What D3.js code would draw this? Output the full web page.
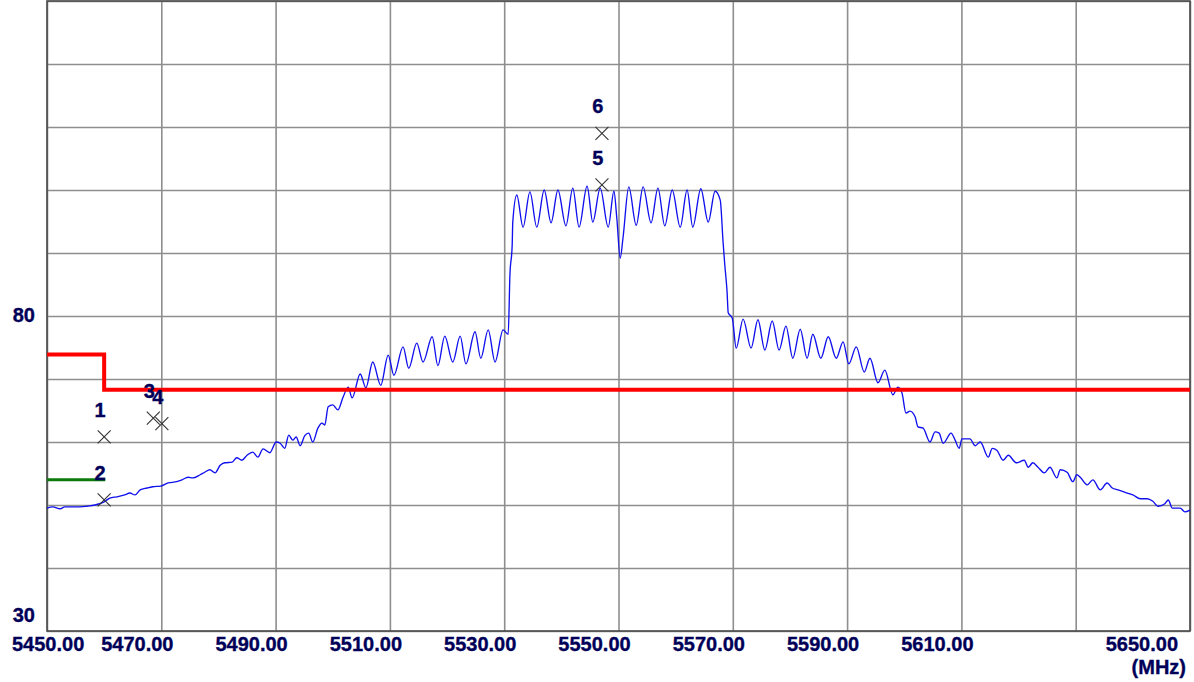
<!DOCTYPE html>
<html>
<head>
<meta charset="utf-8">
<script src="https://cdn.jsdelivr.net/npm/d3@7"></script>
<style>
	body { margin: 0; background: #ffffff; }
	.tick_label { font-family: "Liberation Sans", Arial, sans-serif; font-weight: bold; font-size: 20px; fill: #000058; stroke: #000058; stroke-width: 0.35; }
	.grid line { stroke: #8e8e8e; stroke-width: 1.6; }
	.grid path { display: none; }
</style>
</head>
<body>
<div id="spectrum"></div>
<script>

// trace (MHz, dBuV)
var traceFreq = [5450.0, 5451.0, 5452.3, 5453.1, 5454.4, 5455.8, 5457.0, 5458.4, 5460.0, 5461.0,
	5462.2, 5463.6, 5464.5, 5465.4, 5466.3, 5467.5, 5468.5, 5469.9, 5471.2, 5472.7,
	5473.6, 5474.7, 5475.5, 5476.8, 5477.6, 5478.5, 5479.4, 5480.3, 5481.1, 5482.4,
	5483.2, 5484.1, 5485.0, 5486.0, 5486.9, 5487.8, 5489.0, 5490.1, 5490.8, 5491.6,
	5492.3, 5493.0, 5493.6, 5494.3, 5495.1, 5495.8, 5496.5, 5497.4, 5498.1, 5498.6,
	5499.2, 5500.0, 5500.9, 5501.8, 5502.7, 5503.4, 5504.8, 5505.8, 5507.0, 5508.4,
	5509.7, 5510.7, 5512.3, 5513.3, 5514.7, 5515.8, 5517.4, 5518.4, 5519.6, 5521.0,
	5522.3, 5523.3, 5524.9, 5525.9, 5527.2, 5528.4, 5529.8, 5530.7, 5531.0, 5531.4,
	5531.5, 5532.2, 5533.3, 5534.5, 5535.7, 5537.0, 5538.2, 5539.4, 5540.8, 5542.0,
	5543.1, 5544.5, 5545.5, 5546.8, 5548.2, 5549.2, 5549.7, 5550.3, 5550.8, 5551.8,
	5553.1, 5554.3, 5555.7, 5556.9, 5558.1, 5559.4, 5560.8, 5562.0, 5563.0, 5564.4,
	5565.7, 5566.9, 5567.8, 5568.3, 5568.6, 5569.0, 5569.2, 5569.9, 5570.6, 5571.8,
	5573.2, 5574.4, 5575.6, 5576.9, 5578.1, 5579.3, 5580.5, 5581.8, 5583.0, 5584.0,
	5585.4, 5586.7, 5588.1, 5589.3, 5590.3, 5591.6, 5593.0, 5594.0, 5595.4, 5596.6,
	5598.0, 5598.9, 5599.6, 5600.3, 5601.0, 5601.9, 5602.4, 5603.3, 5604.5, 5605.4,
	5606.1, 5606.8, 5608.2, 5608.9, 5609.6, 5610.1, 5611.5, 5612.4, 5613.3, 5614.7,
	5615.4, 5616.2, 5617.3, 5618.2, 5619.6, 5621.0, 5621.7, 5622.5, 5623.4, 5624.5,
	5625.5, 5626.7, 5627.3, 5628.5, 5629.5, 5630.2, 5630.8, 5632.0, 5633.0, 5634.3,
	5635.5, 5636.4, 5637.4, 5639.0, 5640.0, 5641.3, 5642.5, 5643.5, 5644.4, 5645.6,
	5646.2, 5646.9, 5648.3, 5649.1, 5650.0];

var traceLevel = [49.5, 49.7, 49.4, 49.7, 49.7, 49.7, 49.8, 50.0, 50.5, 51.1,
	51.3, 51.6, 51.9, 51.6, 52.4, 52.7, 52.9, 53.0, 53.5, 53.7,
	54.0, 54.4, 54.3, 54.8, 55.2, 55.6, 55.1, 56.3, 56.7, 56.8,
	57.5, 57.1, 57.9, 58.4, 57.6, 58.9, 58.3, 60.0, 59.8, 59.0,
	61.1, 60.3, 60.8, 59.4, 61.0, 61.4, 60.0, 62.2, 63.0, 62.7,
	65.6, 65.9, 65.1, 67.1, 68.7, 67.0, 70.8, 68.6, 72.7, 69.0,
	73.8, 70.6, 75.1, 71.7, 75.7, 72.7, 76.7, 72.1, 76.8, 72.7,
	76.8, 72.4, 77.5, 73.3, 77.8, 72.7, 77.8, 77.1, 86.5, 91.3,
	94.9, 99.2, 94.1, 99.7, 94.1, 100.0, 94.8, 100.0, 94.3, 100.3,
	94.1, 100.6, 94.9, 100.3, 94.1, 99.8, 95.6, 89.2, 92.5, 100.5,
	94.4, 100.5, 94.8, 100.3, 94.3, 100.0, 94.1, 100.0, 94.1, 100.2,
	94.9, 99.8, 98.4, 91.7, 88.1, 83.8, 80.5, 79.7, 74.9, 79.5,
	74.9, 79.4, 74.6, 79.2, 74.6, 78.4, 73.3, 77.9, 73.3, 77.1,
	73.3, 76.7, 73.3, 75.9, 72.4, 75.1, 71.1, 73.3, 69.4, 71.4,
	67.5, 68.7, 67.8, 64.6, 64.9, 64.0, 62.4, 62.2, 60.0, 61.6,
	61.4, 59.8, 61.4, 60.3, 59.0, 60.5, 60.5, 59.4, 60.0, 57.6,
	59.0, 58.7, 57.1, 57.9, 56.7, 57.1, 56.0, 56.7, 56.0, 55.1,
	56.0, 54.3, 55.6, 55.2, 53.7, 54.8, 54.4, 53.2, 54.0, 52.4,
	53.5, 52.7, 52.4, 51.9, 51.6, 51.0, 51.0, 50.6, 49.8, 50.2,
	50.8, 49.5, 49.5, 48.9, 49.2];

// limit lines
var redFreq = [5450, 5460, 5460, 5650];
var redLevel = [73.9, 73.9, 68.3, 68.3];
var greenFreq = [5450, 5460.2];
var greenLevel = [54.0, 54.0];

// markers
var markerNames = ["1", "2", "3", "4", "5", "6"];
var markerFreq = [5460.0, 5460.0, 5468.6, 5470.1, 5547.1, 5547.1];
var markerLevel = [60.8, 50.8, 63.8, 62.9, 100.8, 109.0];

// axes
var xTicks = [5450, 5470, 5490, 5510, 5530, 5550, 5570, 5590, 5610, 5630, 5650];
var xTickLabels = ["5450.00", "5470.00", "5490.00", "5510.00", "5530.00", "5550.00", "5570.00", "5590.00", "5610.00", "", "5650.00"];
var yTicks = [30, 40, 50, 60, 70, 80, 90, 100, 110, 120, 130];
var yTickLabels = ["30", "", "", "", "", "80", "", "", "", "", ""];
var xUnit = "(MHz)";

var margin = {top: 1, right: 4, bottom: 51, left: 47};
var width = 1194, height = 682;
var sp_width = width - margin.left - margin.right,
	sp_height = height - margin.top - margin.bottom;

var svg = d3.select("#spectrum")
	.append("svg")
	.attr("width", width)
	.attr("height", height);

var chart = svg.append("g")
	.attr("transform", "translate(" + margin.left + "," + margin.top + ")");

var x = d3.scaleLinear().domain([5450, 5650]).range([0, sp_width]);
var y = d3.scaleLinear().domain([30, 130]).range([sp_height, 0]);

// grid
chart.append("g")
	.attr("class", "grid")
	.attr("transform", "translate(0," + sp_height + ")")
	.call(d3.axisBottom(x).tickValues(xTicks).tickSize(-sp_height).tickFormat(""));

chart.append("g")
	.attr("class", "grid")
	.call(d3.axisLeft(y).tickValues(yTicks).tickSize(-sp_width).tickFormat(""));

// frame
chart.append("rect")
	.attr("x", 0)
	.attr("y", 0)
	.attr("width", sp_width)
	.attr("height", sp_height)
	.attr("fill", "none")
	.attr("stroke", "#4a4a4a")
	.attr("stroke-width", 1.6);

// x labels, drawn left of the grid line like the instrument does
var xl = chart.append("g").attr("class", "x_labels");
xTicks.forEach(function(v, i){
	if (xTickLabels[i] == "") return;
	var t = xl.append("text")
		.attr("class", "tick_label")
		.attr("text-anchor", "middle")
		.attr("x", x(v) - 24)
		.attr("y", sp_height + 20)
		.text(xTickLabels[i]);
	var w = t.node().getComputedTextLength();
	var cx = x(v) - 24;
	if (cx - w / 2 < 12 - margin.left) cx = 12 - margin.left + w / 2;
	if (cx + w / 2 > 1178 - margin.left) cx = 1178 - margin.left - w / 2;
	t.attr("x", cx);
});

xl.append("text")
	.attr("class", "tick_label")
	.attr("text-anchor", "end")
	.attr("x", 1186 - margin.left)
	.attr("y", sp_height + 43)
	.text(xUnit);

// y labels
var yl = chart.append("g").attr("class", "y_labels");
yTicks.forEach(function(v, i){
	if (yTickLabels[i] == "") return;
	var yy = y(v) + 6;
	if (yy > sp_height - 9) yy = sp_height - 9;
	yl.append("text")
		.attr("class", "tick_label")
		.attr("text-anchor", "end")
		.attr("x", 35 - margin.left)
		.attr("y", yy)
		.text(yTickLabels[i]);
});

var line = d3.line()
	.x(function(d){ return x(d[0]); })
	.y(function(d){ return y(d[1]); });

// green line
chart.append("path")
	.datum(d3.zip(greenFreq, greenLevel))
	.attr("fill", "none")
	.attr("stroke", "#0a7a0a")
	.attr("stroke-width", 3)
	.attr("d", line);

// spectrum trace
chart.append("path")
	.datum(d3.zip(traceFreq, traceLevel))
	.attr("fill", "none")
	.attr("stroke", "#1010ee")
	.attr("stroke-width", 1.35)
	.attr("d", line.curve(d3.curveMonotoneX));

line.curve(d3.curveLinear);

// red limit line
chart.append("path")
	.datum(d3.zip(redFreq, redLevel))
	.attr("fill", "none")
	.attr("stroke", "#ff0000")
	.attr("stroke-width", 4)
	.attr("d", line);

// markers
var mk = chart.selectAll(".marker")
	.data(d3.range(markerNames.length))
	.enter().append("g")
	.attr("class", "marker")
	.attr("transform", function(i){ return "translate(" + x(markerFreq[i]) + "," + y(markerLevel[i]) + ")"; });

mk.append("path")
	.attr("d", "M-6.5,-6.5L6.5,6.5M-6.5,6.5L6.5,-6.5")
	.attr("stroke", "#333333")
	.attr("stroke-width", 1.1);

mk.append("text")
	.attr("class", "tick_label")
	.attr("text-anchor", "middle")
	.attr("x", -4)
	.attr("y", -20)
	.text(function(i){ return markerNames[i]; });

</script>
</body>
</html>
